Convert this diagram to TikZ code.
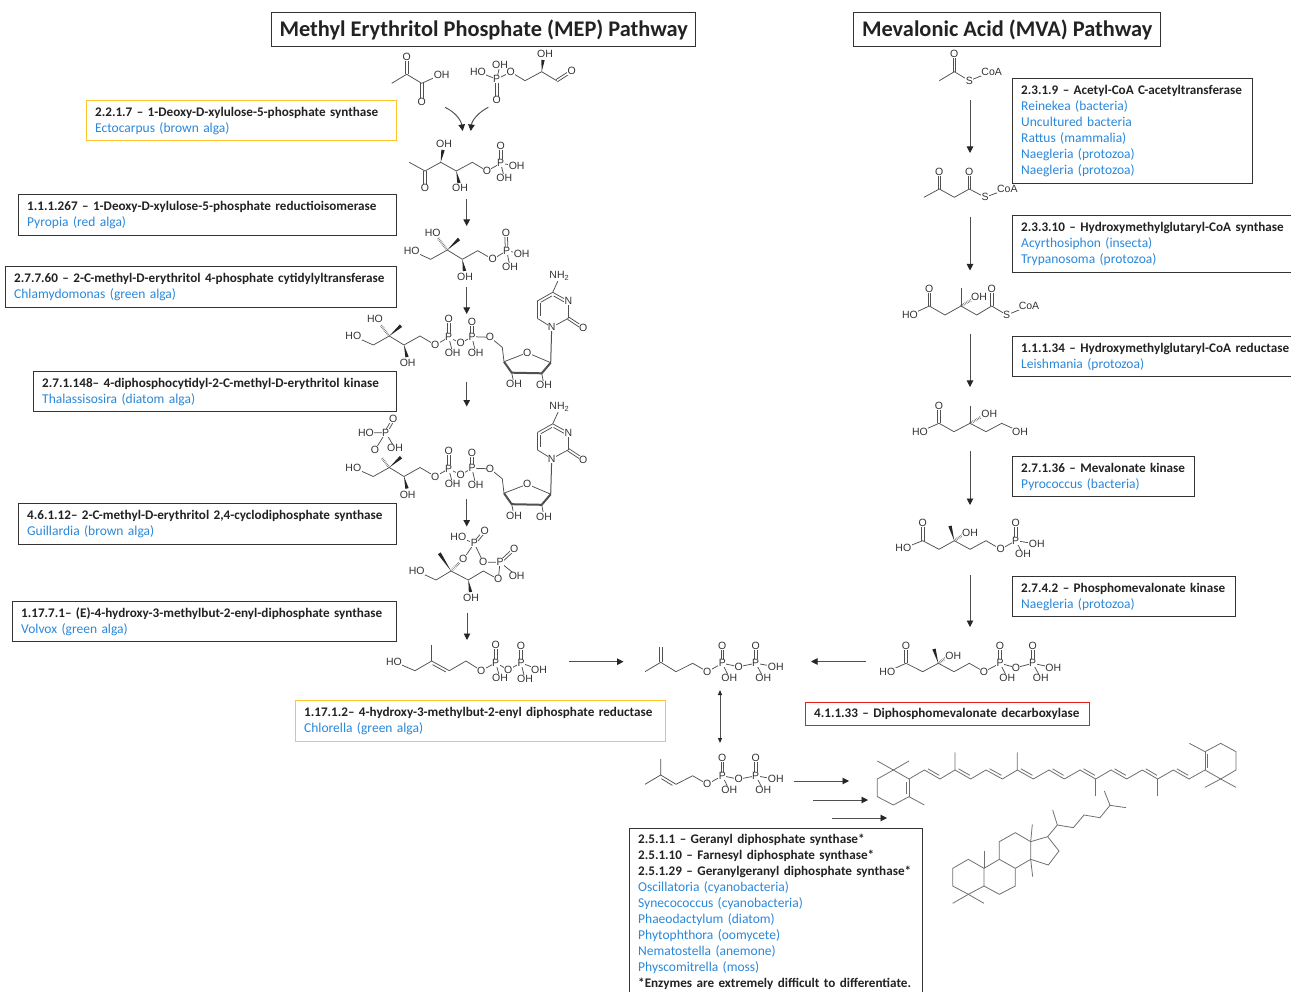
\documentclass[tikz,border=0pt]{standalone}
\usepackage{fontspec}
\usetikzlibrary{calc,arrows.meta}
\setmainfont{Carlito}
\newfontfamily\chemfont{Liberation Sans}
\definecolor{bondc}{HTML}{505050}
\definecolor{terpc}{HTML}{707070}
\definecolor{boxc}{HTML}{333333}
\definecolor{orgc}{HTML}{2A88DA}
\definecolor{goldc}{HTML}{FFC52F}
\definecolor{redc}{HTML}{E0201B}
\definecolor{txtc}{HTML}{222222}
\newcounter{atomc}
\newcounter{arrc}
\tikzset{
  bond/.style={draw=bondc,line width=.75pt},
  atom/.style={font=\chemfont\fontsize{10.5}{11}\selectfont,text=black!80,fill=white,inner sep=.4pt},
  arr/.style={draw=bondc,line width=.95pt,-{Triangle[length=6.5pt,width=6.5pt,color=black!85]}},
  darr/.style={draw=bondc,line width=.95pt,{Triangle[length=5pt,width=4pt,color=black!85]}-{Triangle[length=5pt,width=4pt,color=black!85]}},
  ebox/.style={draw=boxc,line width=1.4pt,anchor=north west,align=left,inner xsep=8.5pt,inner ysep=0pt,font=\fontsize{13.15}{16}\selectfont,text=txtc},
  goldbox/.style={ebox,draw=goldc},
  redbox/.style={ebox,draw=redc},
  titlebox/.style={draw=boxc,line width=1.4pt,anchor=north west,align=center,inner sep=0pt,font=\bfseries\fontsize{22.35}{26}\selectfont,text=txtc},
}
\newcommand\At[2]{\stepcounter{atomc}\node[atom] (atom\arabic{atomc}) at (#1) {#2};}
\newcommand\Dbl[2]{\draw[bond] ($(#1)!1.3pt!90:(#2)$) -- ($(#2)!1.3pt!-90:(#1)$); \draw[bond] ($(#1)!1.3pt!-90:(#2)$) -- ($(#2)!1.3pt!90:(#1)$);}
\newcommand\DblS[2]{\draw[bond] (#1) -- (#2); \draw[bond,shorten <=2.5pt,shorten >=2.5pt] ($(#1)!2.8pt!90:(#2)$) -- ($(#2)!2.8pt!-90:(#1)$);}
\newcommand\Wedge[2]{\fill[black!85] (#1) -- ($(#2)!1.7pt!90:(#1)$) -- ($(#2)!1.7pt!-90:(#1)$) -- cycle;}
\newcommand\Hash[2]{\draw[black!60,line width=2.6pt,dash pattern=on .5pt off 1.1pt] (#1) -- (#2);}
\newcommand\Arr[2]{\stepcounter{arrc}\coordinate (s\arabic{arrc}) at (#1); \coordinate (e\arabic{arrc}) at (#2); \draw[arr] (s\arabic{arrc}) -- (e\arabic{arrc});}
\newcommand\Ebox[7]{\node[#2,minimum width=#5pt-#3pt,minimum height=#6pt-#4pt,text width=#5pt-#3pt-17pt] (#1) at (#3,#4) {#7};}
\newcommand\En[1]{\textbf{#1}}
\newcommand\Or[1]{\textcolor{orgc}{\fontsize{13.5}{16}\selectfont #1}}
% shared pieces
\newcommand\CDPcore{%
  \draw[bond] (373.3,345) -- (389.3,336) -- (404,345) -- (420,336) -- (435.3,345) -- (448.7,337.3) -- (460.7,343.3) -- (472,336.7) -- (490,337.3) -- (502.3,347.3) -- (504,361.7);
  \draw[bond] (353.3,336) -- (373.3,345);
  \draw[bond] (448.7,337.3) -- (452.7,352.7);
  \draw[bond] (472,336.7) -- (475.7,353.3);
  \Dbl{448.7,337.3}{448.7,319.3}
  \Dbl{472,336.7}{472,321.7}
  \Wedge{389.3,336}{401,325.7}
  \Wedge{404,345}{407,357}
  \draw[bond] (504,361.7) -- (527.3,352.7) -- (550.7,362.7);
  \draw[bond,line width=2pt,line join=round] (504,361.7) -- (511.7,372.7) -- (541.7,373.3) -- (550.7,362.7);
  \draw[bond] (511.7,372.7) -- (514,384);
  \draw[bond] (541.7,373.3) -- (544,385);
  \draw[bond,line width=1pt] (550.7,362.7) -- (551.7,327.3);
  \draw[bond] (551.7,327.3) -- (568.3,318.3);
  \DblS{568.3,301}{552.7,292.3}
  \draw[bond] (552.7,292.3) -- (559.3,278);
  \DblS{552.7,292.3}{537.3,301}
  \draw[bond] (568.3,318.3) -- (568.3,301);
  \DblS{537.3,301}{537.3,318.3}
  \draw[bond] (537.3,318.3) -- (551.7,327.3);
  \Dbl{568.3,318.3}{583.3,328.3}
  \At{353.3,336}{HO}
  \At{407.7,363.3}{OH}
  \At{435.3,345}{O}
  \At{448.7,337.3}{P}
  \At{448.7,319.3}{O}
  \At{452.7,352.7}{OH}
  \At{460.7,343.3}{O}
  \At{472,336.7}{P}
  \At{472,321.7}{O}
  \At{475.7,353.3}{OH}
  \At{490,337.3}{O}
  \At{527.3,352.7}{O}
  \At{514,384}{OH}
  \At{544,385}{OH}
  \At{551.7,327.3}{N}
  \At{568.3,301}{N}
  \At{583.3,328.3}{O}
  \At{559.3,275.7}{NH\textsubscript{2}}
}
\newcommand\PPtail{%
  \draw[bond] (692.7,663.3) -- (707.3,671.7) -- (722.3,663.3) -- (738.7,666.7) -- (755.7,663.3) -- (775.7,666.7);
  \draw[bond] (722.3,663.3) -- (729.3,677.7);
  \draw[bond] (755.7,663.3) -- (763.3,677.3);
  \Dbl{722.3,663.3}{722.3,645.7}
  \Dbl{755.7,663.3}{755.7,645.7}
  \At{707.3,671.7}{O}
  \At{722.3,663.3}{P}
  \At{722.3,645.7}{O}
  \At{729.3,677.7}{OH}
  \At{738.7,666.7}{O}
  \At{755.7,663.3}{P}
  \At{755.7,645.7}{O}
  \At{775.7,666.7}{OH}
  \At{763.3,677.7}{OH}
}
\begin{document}
\begin{tikzpicture}[x=1pt,y=-1pt]
\useasboundingbox (0,0) rectangle (1291,992);
\fill[white] (0,0) rectangle (1291,992);

% titles
\node[titlebox,minimum width=424pt,minimum height=34pt] (mep) at (271,12) {Methyl Erythritol Phosphate (MEP) Pathway};
\node[titlebox,minimum width=307pt,minimum height=34pt] (mva) at (853,12) {Mevalonic Acid (MVA) Pathway};

% enzyme boxes
\Ebox{b1}{goldbox}{86}{100}{396}{140}{\En{2.2.1.7 – 1-Deoxy-D-xylulose-5-phosphate synthase}\\\Or{Ectocarpus (brown alga)}}
\Ebox{b2}{ebox}{18}{194}{396}{235}{\En{1.1.1.267 – 1-Deoxy-D-xylulose-5-phosphate reductioisomerase}\\\Or{Pyropia (red alga)}}
\Ebox{b3}{ebox}{5}{266}{396}{307}{\En{2.7.7.60 – 2-C-methyl-D-erythritol 4-phosphate cytidylyltransferase}\\\Or{Chlamydomonas (green alga)}}
\Ebox{b4}{ebox}{33}{371}{396}{411}{\En{2.7.1.148– 4-diphosphocytidyl-2-C-methyl-D-erythritol kinase}\\\Or{Thalassisosira (diatom alga)}}
\Ebox{b5}{ebox}{18}{503}{396}{544}{\En{4.6.1.12– 2-C-methyl-D-erythritol 2,4-cyclodiphosphate synthase}\\\Or{Guillardia (brown alga)}}
\Ebox{b6}{ebox}{12}{601}{396}{641}{\En{1.17.7.1– (E)-4-hydroxy-3-methylbut-2-enyl-diphosphate synthase}\\\Or{Volvox (green alga)}}
\Ebox{b7}{goldbox}{295}{700}{665}{741}{\En{1.17.1.2– 4-hydroxy-3-methylbut-2-enyl diphosphate reductase}\\\Or{Chlorella (green alga)}}
\Ebox{b8}{redbox}{805}{702}{1089}{725}{\En{4.1.1.33 – Diphosphomevalonate decarboxylase}}
\Ebox{b9}{ebox}{1012}{78}{1252}{183}{\En{2.3.1.9 – Acetyl-CoA C-acetyltransferase}\\\Or{Reinekea (bacteria)}\\\Or{Uncultured bacteria}\\\Or{Rattus (mammalia)}\\\Or{Naegleria (protozoa)}\\\Or{Naegleria (protozoa)}}
\Ebox{b10}{ebox}{1012}{215}{1300}{272}{\En{2.3.3.10 – Hydroxymethylglutaryl-CoA synthase}\\\Or{Acyrthosiphon (insecta)}\\\Or{Trypanosoma (protozoa)}}
\Ebox{b11}{ebox}{1012}{336}{1300}{376}{\En{1.1.1.34 – Hydroxymethylglutaryl-CoA reductase}\\\Or{Leishmania (protozoa)}}
\Ebox{b12}{ebox}{1012}{456}{1194}{496}{\En{2.7.1.36 – Mevalonate kinase}\\\Or{Pyrococcus (bacteria)}}
\Ebox{b13}{ebox}{1012}{576}{1235}{616}{\En{2.7.4.2 – Phosphomevalonate kinase}\\\Or{Naegleria (protozoa)}}
\Ebox{b14}{ebox}{629}{828}{922}{995}{\En{2.5.1.1 – Geranyl diphosphate synthase*}\\\En{2.5.1.10 – Farnesyl diphosphate synthase*}\\\En{2.5.1.29 – Geranylgeranyl diphosphate synthase*}\\\Or{Oscillatoria (cyanobacteria)}\\\Or{Synecococcus (cyanobacteria)}\\\Or{Phaeodactylum (diatom)}\\\Or{Phytophthora (oomycete)}\\\Or{Nematostella (anemone)}\\\Or{Physcomitrella (moss)}\\\En{*Enzymes are extremely difficult to differentiate.}}

% arrows
\coordinate (c1s) at (445,107.3); \coordinate (c1e) at (462.7,131);
\coordinate (c2s) at (488.3,107.3); \coordinate (c2e) at (470.7,131);
\draw[arr] (c1s) .. controls (455,112) and (461,120) .. (c1e);
\draw[arr] (c2s) .. controls (479,112) and (472,120) .. (c2e);
\Arr{466.7,199}{466.7,226}
\Arr{466.7,287.3}{466.7,314}
\Arr{466.7,381.7}{466.7,406.5}
\Arr{466.7,499.3}{466.7,526.5}
\Arr{467,613.3}{467,640}
\Arr{569.3,661.7}{623.5,661.7}
\Arr{866,661.5}{811,661.5}
\coordinate (ds) at (720,690); \coordinate (de) at (720,743);
\draw[darr] (ds) -- (de);
\Arr{794,781}{849,781}
\Arr{813,800}{868,800}
\Arr{832,818}{887,818}
\Arr{970,100}{970,153}
\Arr{970,216.7}{970,270.5}
\Arr{970,334}{970,387}
\Arr{970,451}{970,505}
\Arr{970,575}{970,627}

% pyruvate
\draw[bond] (391.7,83.3) -- (406.7,74.3) -- (421.7,83.3) -- (441.7,74.3);
\Dbl{406.7,74.3}{406.7,57}
\Dbl{421.7,83.3}{421.7,102}
\At{406.7,57}{O}\At{421.7,102}{O}\At{441.7,75}{OH}

% G3P
\draw[bond] (478,71.7) -- (496.7,79.3) -- (510.7,72) -- (525,80.7) -- (541.7,71.7) -- (556.7,80.7);
\draw[bond] (496.7,79.3) -- (500,65);
\Dbl{496.7,79.3}{496.7,100}
\Dbl{556.7,80.7}{571.7,71}
\Wedge{541.7,71.7}{543,60}
\At{478,71.7}{HO}\At{500,65}{OH}\At{510.7,72}{O}\At{496.7,79.3}{P}\At{496.7,100}{O}\At{545,54.3}{OH}\At{571.7,71}{O}

% DXP
\draw[bond] (409.3,162.3) -- (425,171) -- (440.7,162.3) -- (456.3,171) -- (472.3,162.3) -- (487,171) -- (500.7,163.3) -- (516.7,166);
\draw[bond] (500.7,163.3) -- (504.3,177.7);
\Dbl{425,171}{425,188.3}
\Dbl{500.7,163.3}{500.7,146}
\Wedge{440.7,162.3}{443,150}
\Wedge{456.3,171}{459,183}
\At{425,188.3}{O}\At{444,144.3}{OH}\At{460,188.3}{OH}\At{487,171}{O}\At{500.7,163.3}{P}\At{500.7,146}{O}\At{516.7,166}{OH}\At{504.3,177.7}{OH}

% MEP
\draw[bond] (411.7,250.7) -- (430.7,259.3) -- (447.3,250) -- (462.3,259.3) -- (477.7,250.7) -- (492.7,259.3) -- (506.7,250.7) -- (521.7,254);
\draw[bond] (506.7,250.7) -- (510,266.7);
\Dbl{506.7,250.7}{506,233.3}
\Wedge{447.3,250}{459,239}
\Hash{447.3,250}{438,238}
\Wedge{462.3,259.3}{464.5,271}
\At{432.7,233.3}{HO}\At{411.7,250.7}{HO}\At{465,276.7}{OH}\At{492.7,259.3}{O}\At{506.7,250.7}{P}\At{506,233.3}{O}\At{521.7,254}{OH}\At{510,266.7}{OH}

% CDP-ME
\CDPcore
\Hash{389.3,336}{380.7,325}
\At{375,319.3}{HO}

% CDP-MEP
\begin{scope}[shift={(0,131.5)}]
\CDPcore
\Hash{389.3,336}{381.5,326}
\draw[bond] (375,318.5) -- (385.7,301.2);
\draw[bond] (366,301.2) -- (385.7,301.2) -- (395,316.8);
\Dbl{385.7,301.2}{393.3,287.8}
\At{375,318.5}{O}\At{385.7,301.2}{P}\At{393.3,287.8}{O}\At{366,301.2}{HO}\At{395,316.8}{OH}
\end{scope}

% MEcPP
\draw[bond] (416.7,571) -- (436,580) -- (451,571) -- (468.3,580) -- (483.3,571) -- (498.3,579.3) -- (500,562.3) -- (483.3,562.3) -- (474.3,543.3) -- (463.3,559.3);
\draw[bond] (458.3,536.7) -- (474.3,543.3);
\draw[bond] (500,562.3) -- (516.7,575.7);
\Dbl{474.3,543.3}{484.7,531}
\Dbl{500,562.3}{514.3,549}
\Wedge{451,571}{439.3,553.3}
\Hash{451,571}{461,561}
\Wedge{468.3,580}{470.5,592}
\At{458.3,536.7}{HO}\At{474.3,543.3}{P}\At{484.7,531}{O}\At{463.3,559.3}{O}\At{483.3,562.3}{O}\At{500,562.3}{P}\At{514.3,549}{O}\At{516.7,575.7}{OH}\At{498.3,579.3}{O}\At{471,597.7}{OH}\At{416.7,571}{HO}

% HMBPP
\draw[bond] (394,661.7) -- (415,670.7) -- (431.7,661);
\draw[bond] (431.7,661) -- (431.7,645);
\DblS{449.3,670.7}{431.7,661}
\draw[bond] (449.3,670.7) -- (466,661) -- (481.3,670.7) -- (495.7,662.7) -- (508.3,670) -- (521,662.7) -- (539,670);
\draw[bond] (495.7,662.7) -- (500,678.3);
\draw[bond] (521,662.7) -- (525,679.3);
\Dbl{495.7,662.7}{495.7,643.3}
\Dbl{521,662.7}{521,645.7}
\At{394,661.7}{HO}\At{481.3,670.7}{O}\At{495.7,662.7}{P}\At{495.7,645}{O}\At{500,678.3}{OH}\At{508.3,670}{O}\At{521,662.7}{P}\At{521,645.7}{O}\At{539,670}{OH}\At{525,679.3}{OH}

% IPP
\draw[bond] (645,671.7) -- (660.7,662.3) -- (676,671.7) -- (692.7,663.3);
\Dbl{660.7,662.3}{660.7,646.7}
\PPtail

% DMAPP
\draw[bond] (645,784.3) -- (660.7,775) -- (660.7,759);
\draw[bond] (676,784.3) -- (692.7,775.7);
\DblS{676,784.3}{660.7,775}
\begin{scope}[shift={(0,112.5)}]
\PPtail
\end{scope}

% Acetyl-CoA
\draw[bond] (939.3,80.7) -- (954.3,71.7) -- (969.3,80.7) -- (991.7,71.7);
\Dbl{954.3,71.7}{954.3,54}
\At{954.3,54}{O}\At{969.3,80.7}{S}\At{991.7,71.7}{CoA}

% Acetoacetyl-CoA
\draw[bond] (924,197.3) -- (939.3,189) -- (954.3,197.3) -- (969.3,189) -- (985,197.3) -- (1007.3,189);
\Dbl{939.3,189}{939.3,171.7}
\Dbl{969.3,189}{969.3,171.7}
\At{939.3,171.7}{O}\At{969.3,171.7}{O}\At{985,197.3}{S}\At{1007.3,189}{CoA}

% HMG-CoA
\draw[bond] (910,315) -- (929.3,306) -- (945,315) -- (961,306) -- (976.7,315) -- (991.7,306) -- (1006.7,315) -- (1029,306);
\draw[bond] (961,306) -- (961,288.3);
\Dbl{929.3,306}{929.3,289}
\Dbl{991.7,306}{991.7,289}
\Hash{961,306}{973,299}
\At{910,315}{HO}\At{929.3,289}{O}\At{979,297.3}{OH}\At{991.7,289}{O}\At{1006.7,315}{S}\At{1029,306}{CoA}

% Mevalonate
\draw[bond] (920,431.7) -- (939,423.3) -- (954,431.7) -- (970,423.3) -- (986,431.7) -- (1001.7,423.3) -- (1020,431.7);
\draw[bond] (970,423.3) -- (970,405.7);
\Dbl{939,423.3}{939,405.7}
\Hash{970,423.3}{983,416}
\At{920,431.7}{HO}\At{939,405.7}{O}\At{989.3,414}{OH}\At{1020,431.7}{OH}

% MVAP
\draw[bond] (903.3,548.3) -- (922.7,540.7) -- (939,549.3) -- (954.3,540.7) -- (970,549.3) -- (986,540.7) -- (1000.7,549.3) -- (1015.7,540.7) -- (1036.7,544);
\draw[bond] (1015.7,540.7) -- (1023,554.3);
\Dbl{922.7,540.7}{922.7,522.7}
\Dbl{1015.7,540.7}{1015.7,522.7}
\Wedge{954.3,540.7}{950,526}
\Hash{954.3,540.7}{964,534}
\At{903.3,548.3}{HO}\At{922.7,522.7}{O}\At{970,532.7}{OH}\At{1000.7,549.3}{O}\At{1015.7,540.7}{P}\At{1015.7,522.7}{O}\At{1036.7,544}{OH}\At{1023,554.3}{OH}

% MVAPP
\draw[bond] (887.3,671.7) -- (906,663.3) -- (922.7,671.7) -- (938.3,663.3) -- (954,671.7) -- (969.3,663.3) -- (984,671.7) -- (1000,663.3) -- (1016,667.7) -- (1032.7,663.3) -- (1053.3,667.7);
\draw[bond] (1000,663.3) -- (1007.3,677.7);
\draw[bond] (1032.7,663.3) -- (1040.7,677.7);
\Dbl{906,663.3}{906,645.7}
\Dbl{1000,663.3}{1000,645.7}
\Dbl{1032.7,663.3}{1032.7,645.7}
\Wedge{938.3,663.3}{934,649}
\Hash{938.3,663.3}{947,657}
\At{887.3,671.7}{HO}\At{906,645.7}{O}\At{953.3,655.7}{OH}\At{984,671.7}{O}\At{1000,663.3}{P}\At{1000,645.7}{O}\At{1007.3,677.7}{OH}\At{1016,667.7}{O}\At{1032.7,663.3}{P}\At{1032.7,645.7}{O}\At{1053.3,667.7}{OH}\At{1040.7,677.7}{OH}

% carotene and steroid, in crop coordinates
\begin{scope}[shift={(860,730)},x=.33333pt,y=-.33333pt,bond/.style={draw=terpc,line width=.8pt}]
\draw[bond] (147,147) -- (100,120) -- (52,147) -- (52,200) -- (100,225) -- (147,200);
\draw[bond] (52,93) -- (100,120) -- (147,93);
\draw[bond] (147,200) -- (193,225);
\DblS{147,200}{147,147}
\draw[bond] (147,147) -- (193,120);
\DblS{193,120}{240,147}
\draw[bond] (240,147) -- (285,120) -- (285,67);
\DblS{285,120}{332,147}
\draw[bond] (332,147) -- (378,120);
\DblS{378,120}{427,147}
\draw[bond] (427,147) -- (472,120) -- (472,67);
\DblS{472,120}{520,147}
\draw[bond] (520,147) -- (567,120);
\DblS{567,120}{613,147}
\draw[bond] (613,147) -- (660,120);
\DblS{660,120}{707,147}
\draw[bond] (707,147) -- (707,198);
\draw[bond] (707,147) -- (753,120);
\DblS{753,120}{800,147}
\draw[bond] (800,147) -- (847,120);
\DblS{847,120}{893,147}
\draw[bond] (893,147) -- (893,198);
\draw[bond] (893,147) -- (940,120);
\DblS{940,120}{987,147}
\draw[bond] (987,147) -- (1035,120);
\DblS{1035,65}{1035,120}
\draw[bond] (988,40) -- (1035,65) -- (1082,40) -- (1128,65) -- (1128,120) -- (1082,147) -- (1035,120);
\draw[bond] (1035,172) -- (1082,147) -- (1128,172);
% steroid
\draw[bond] (372,415) -- (325,388) -- (278,415) -- (278,468) -- (325,493) -- (372,468) -- cycle;
\draw[bond] (278,520) -- (325,493) -- (372,520);
\draw[bond] (372,415) -- (372,362);
\draw[bond] (372,415) -- (418,388) -- (466,415) -- (466,468) -- (418,493) -- (372,468);
\draw[bond] (418,388) -- (418,335) -- (466,308) -- (512,335) -- (512,388) -- (466,415);
\draw[bond] (512,335) -- (563,320) -- (597,363) -- (565,405) -- (512,388);
\draw[bond] (512,335) -- (517,283);
\draw[bond] (512,388) -- (518,440);
\draw[bond] (563,320) -- (592,285) -- (578,240);
\draw[bond] (592,285) -- (640,293) -- (672,255) -- (720,263) -- (750,226) -- (733,183);
\draw[bond] (750,226) -- (798,233);
\end{scope}
\end{tikzpicture}
\end{document}
